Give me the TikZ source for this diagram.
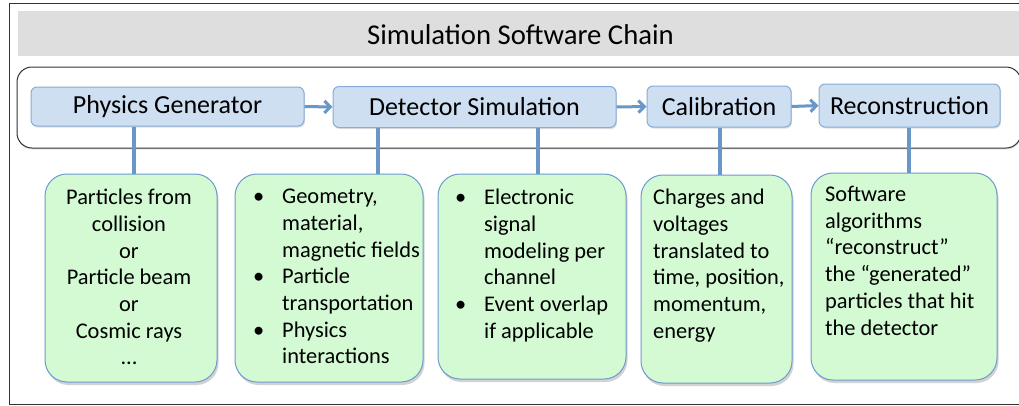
\documentclass[tikz,border=0pt]{standalone}
\usepackage{fontspec}
\setmainfont{Carlito}
\usetikzlibrary{shadows,arrows.meta}
\definecolor{barGray}{HTML}{DEDEDE}
\definecolor{frameLine}{HTML}{333333}
\definecolor{stageFill}{HTML}{CEDFF2}
\definecolor{stageLine}{HTML}{86ACD9}
\definecolor{infoFill}{HTML}{D3FAD3}
\definecolor{infoLine}{HTML}{6E9BCF}
\definecolor{linkBlue}{HTML}{6897C8}
\newcommand{\bul}{\makebox[29pt][l]{\textbullet}}
\newcommand{\ind}{\hspace*{29pt}}
\begin{document}
\begin{tikzpicture}[x=1pt,y=-1pt,
  stage/.style={draw=stageLine, fill=stageFill, rounded corners=6pt, line width=1pt,
    inner sep=0pt, text=black, font=\fontsize{26}{30}\selectfont,
    drop shadow={shadow xshift=1pt, shadow yshift=-1.5pt, opacity=0.25}},
  info/.style={draw=infoLine, fill=infoFill, rounded corners=22pt, line width=1pt,
    inner sep=0pt, drop shadow={shadow xshift=1.5pt, shadow yshift=-3pt, opacity=0.35}},
  infotext/.style={inner sep=0pt, text=black, font=\fontsize{22.4}{26.7}\selectfont},
  link/.style={draw=linkBlue, line width=4pt},
  flow/.style={draw=linkBlue, line width=3pt, -{Straight Barb[length=6pt,width=12pt]}}]
\useasboundingbox (0,0) rectangle (1019,405);
\clip (0,0) rectangle (1019,405);

% outer frame, title bar and the chain band
\draw[frameLine, line width=1pt, fill=white] (9,3) rectangle (1040,404);
\fill[barGray] (18,11) rectangle (1040,56);
\node[inner sep=0pt, font=\fontsize{28.7}{32}\selectfont, anchor=base] (title) at (520.5,44.3) {Simulation Software Chain};
\draw[frameLine, line width=1pt, rounded corners=15pt, fill=white,
  drop shadow={shadow xshift=0.5pt, shadow yshift=-1.5pt, opacity=0.2}] (17,67) rectangle (1021,148);

% stages of the chain
\node[stage, minimum width=273, minimum height=39] (pg)  at (167.5,106.5) {Physics Generator};
\node[stage, minimum width=283, minimum height=41] (ds)  at (474.5,107)   {Detector Simulation};
\node[stage, minimum width=144, minimum height=41] (cal) at (719,106.5)   {Calibration};
\node[stage, minimum width=181, minimum height=43] (rec) at (909.5,105.5) {Reconstruction};

\draw[flow] (pg.east)  -- (ds.west);
\draw[flow] (ds.east)  -- (cal.west);
\draw[flow] (cal.east) -- (rec.west);

% detail boxes
\node[info, minimum width=172, minimum height=208] (g1) at (131,278)   {};
\node[info, minimum width=188, minimum height=208] (g2) at (329,278)   {};
\node[info, minimum width=188, minimum height=205] (g3) at (532,276.5) {};
\node[info, minimum width=151, minimum height=208] (g4) at (716.5,279) {};
\node[info, minimum width=186, minimum height=207] (g5) at (904,276.5) {};

% links from the stages down to their details
\draw[link] ([xshift=3pt]g1.north)  -- ([xshift=3pt]g1.north |- pg.south);
\draw[link] ([xshift=49pt]g2.north) -- ([xshift=49pt]g2.north |- ds.south);
\draw[link] ([xshift=6pt]g3.north)  -- ([xshift=6pt]g3.north |- ds.south);
\draw[link] ([xshift=3.5pt]g4.north) -- ([xshift=3.5pt]g4.north |- cal.south);
\draw[link] ([xshift=5pt]g5.north)  -- ([xshift=5pt]g5.north |- rec.south);

% texts of the detail boxes
\node[infotext, align=center, anchor=north] (t1) at (129,189)
  {Particles from\\collision\\or\\Particle beam\\or\\Cosmic rays\\...};
\node[infotext, align=left, anchor=north west] (t2) at (253,189)
  {\bul Geometry,\\\ind material,\\\ind magnetic fields\\\bul Particle\\\ind transportation\\\bul Physics\\\ind interactions};
\node[infotext, align=left, anchor=north west] (t3) at (455,189)
  {\bul Electronic\\\ind signal\\\ind modeling per\\\ind channel\\\bul Event overlap\\\ind if applicable};
\node[infotext, align=left, anchor=north west] (t4) at (653,189)
  {Charges and\\voltages\\translated to\\time, position,\\momentum,\\energy};
\node[infotext, align=left, anchor=north west] (t5) at (825,186)
  {Software\\algorithms\\“reconstruct”\\the “generated”\\particles that hit\\the detector};
\end{tikzpicture}
\end{document}
